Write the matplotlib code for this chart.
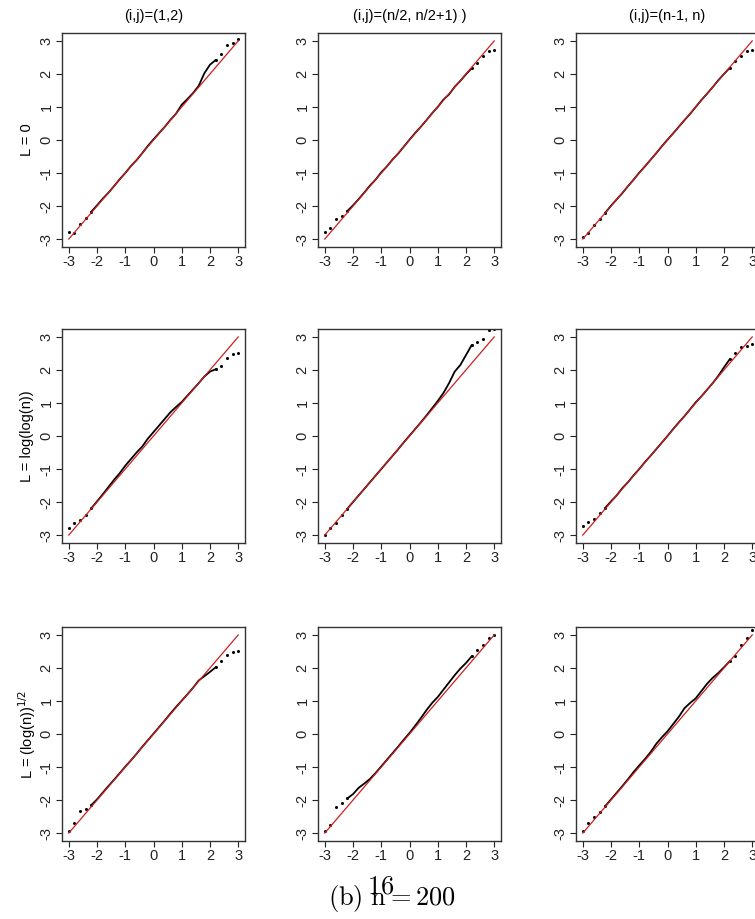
import matplotlib
matplotlib.use("Agg")
import matplotlib.pyplot as plt

plt.rcParams['font.family'] = ['Liberation Sans', 'DejaVu Sans']

# theoretical normal quantiles (shared by all panels)
theo_q = [-3.0, -2.8, -2.6, -2.4, -2.2, -2.0, -1.8, -1.6, -1.4, -1.2, -1.0, -0.8, -0.6, -0.4, -0.2,
          0.0, 0.2, 0.4, 0.6, 0.8, 1.0, 1.2, 1.4, 1.6, 1.8, 2.0, 2.2, 2.4, 2.6, 2.8, 3.0]

# sample quantiles, row = L value, column = (i,j)
s_L0_12 = [-2.80, -2.82, -2.55, -2.35, -2.17, -1.98, -1.78, -1.60, -1.40, -1.19, -1.00, -0.79, -0.61, -0.40, -0.18,
           0.02, 0.21, 0.40, 0.61, 0.80, 1.07, 1.24, 1.42, 1.64, 2.02, 2.28, 2.42, 2.60, 2.88, 2.95, 3.07]
s_L0_mid = [-2.80, -2.65, -2.40, -2.30, -2.15, -1.98, -1.79, -1.59, -1.38, -1.20, -0.98, -0.80, -0.59, -0.41, -0.20,
            0.01, 0.21, 0.40, 0.60, 0.81, 1.00, 1.22, 1.38, 1.61, 1.79, 1.99, 2.17, 2.32, 2.55, 2.68, 2.72]
s_L0_end = [-2.95, -2.82, -2.58, -2.39, -2.20, -1.99, -1.80, -1.61, -1.40, -1.20, -0.99, -0.80, -0.60, -0.40, -0.19,
            0.01, 0.20, 0.40, 0.60, 0.79, 1.00, 1.21, 1.40, 1.60, 1.81, 2.00, 2.18, 2.38, 2.55, 2.68, 2.72]
s_LL_12 = [-2.80, -2.64, -2.55, -2.38, -2.19, -1.98, -1.77, -1.55, -1.33, -1.13, -0.90, -0.70, -0.50, -0.32, -0.08,
           0.12, 0.32, 0.52, 0.72, 0.88, 1.03, 1.22, 1.41, 1.60, 1.80, 1.95, 2.02, 2.12, 2.35, 2.48, 2.52]
s_LL_mid = [-3.00, -2.78, -2.62, -2.40, -2.20, -2.00, -1.80, -1.60, -1.40, -1.20, -1.00, -0.80, -0.60, -0.40, -0.19,
            0.01, 0.21, 0.41, 0.62, 0.84, 1.06, 1.30, 1.60, 1.95, 2.15, 2.45, 2.75, 2.85, 2.93, 3.20, 3.25]
s_LL_end = [-2.72, -2.60, -2.52, -2.32, -2.17, -1.98, -1.80, -1.58, -1.40, -1.19, -1.00, -0.79, -0.60, -0.40, -0.20,
            0.00, 0.21, 0.41, 0.60, 0.81, 1.02, 1.20, 1.40, 1.60, 1.82, 2.08, 2.32, 2.52, 2.68, 2.74, 2.80]
s_LS_12 = [-2.95, -2.68, -2.33, -2.28, -2.15, -1.98, -1.78, -1.58, -1.39, -1.19, -0.99, -0.80, -0.60, -0.39, -0.19,
           0.01, 0.21, 0.41, 0.62, 0.82, 1.01, 1.20, 1.40, 1.62, 1.75, 1.88, 2.02, 2.20, 2.38, 2.48, 2.50]
s_LS_mid = [-2.95, -2.75, -2.22, -2.10, -1.95, -1.82, -1.63, -1.50, -1.36, -1.18, -0.98, -0.78, -0.58, -0.38, -0.17,
            0.03, 0.25, 0.48, 0.72, 0.94, 1.12, 1.34, 1.56, 1.78, 1.98, 2.15, 2.35, 2.53, 2.70, 2.90, 3.00]
s_LS_end = [-2.95, -2.70, -2.50, -2.35, -2.18, -1.98, -1.78, -1.58, -1.37, -1.15, -0.95, -0.76, -0.55, -0.30, -0.10,
            0.08, 0.30, 0.52, 0.78, 0.94, 1.08, 1.30, 1.52, 1.70, 1.85, 2.02, 2.20, 2.35, 2.70, 2.90, 3.15]

samples = [[s_L0_12, s_L0_mid, s_L0_end],
           [s_LL_12, s_LL_mid, s_LL_end],
           [s_LS_12, s_LS_mid, s_LS_end]]

col_titles = ['(i,j)=(1,2)', '(i,j)=(n/2, n/2+1) )', '(i,j)=(n-1, n)']
row_labels = ['L = 0', 'L = log(log(n))', 'L = (log(n))$^{1/2}$']
ticks = [-3, -2, -1, 0, 1, 2, 3]
ref_line = [-3, 3]

W, H = 755, 919
fig = plt.figure(figsize=(W / 100, H / 100), dpi=100)

col_left = [62, 318, 576]
row_top = [33, 329, 627]
aw, ah = 183, 214

for r in range(3):
    for c in range(3):
        ax = fig.add_axes([col_left[c] / W, 1 - (row_top[r] + ah) / H, aw / W, ah / H])
        x = theo_q
        y = samples[r][c]
        core = [i for i, v in enumerate(x) if -2.2 <= v <= 2.2]
        tails = [i for i, v in enumerate(x) if abs(v) >= 2.2]
        ax.plot([x[i] for i in core], [y[i] for i in core], color='black', lw=1.3, zorder=2)
        ax.plot([x[i] for i in tails], [y[i] for i in tails], ls='none', marker='o', ms=1.2,
                color='black', zorder=2)
        ax.plot(ref_line, ref_line, color='#cc2020', lw=0.9, zorder=3)
        ax.set_xlim(-3.24, 3.24)
        ax.set_ylim(-3.24, 3.24)
        ax.set_xticks(ticks)
        ax.set_yticks(ticks)
        ax.set_xticklabels([str(t) for t in ticks], fontsize=10.5)
        ax.set_yticklabels([str(t) for t in ticks], fontsize=10.5, rotation=90, va='center')
        ax.tick_params(length=4, width=0.8, pad=2, colors='#222222')
        for s in ax.spines.values():
            s.set_linewidth(1.0)
            s.set_color('#333333')
        if r == 0:
            fig.text((col_left[c] + aw / 2) / W, 1 - 16 / H, col_titles[c], ha='center', va='center', fontsize=10.5)
        if c == 0:
            fig.text(27 / W, 1 - (row_top[r] + ah / 2) / H, row_labels[r], rotation=90,
                     ha='center', va='center', fontsize=10.5)

fig.text(381 / W, 1 - 886 / H, r'$\mathrm{16}$', ha='center', va='center', fontsize=19, math_fontfamily='cm')
fig.text(392 / W, 1 - 899 / H, r'$\mathrm{(b)\ n{=}200}$', ha='center', va='center', fontsize=19,
         math_fontfamily='cm')

fig.savefig('out.png', dpi=100)
